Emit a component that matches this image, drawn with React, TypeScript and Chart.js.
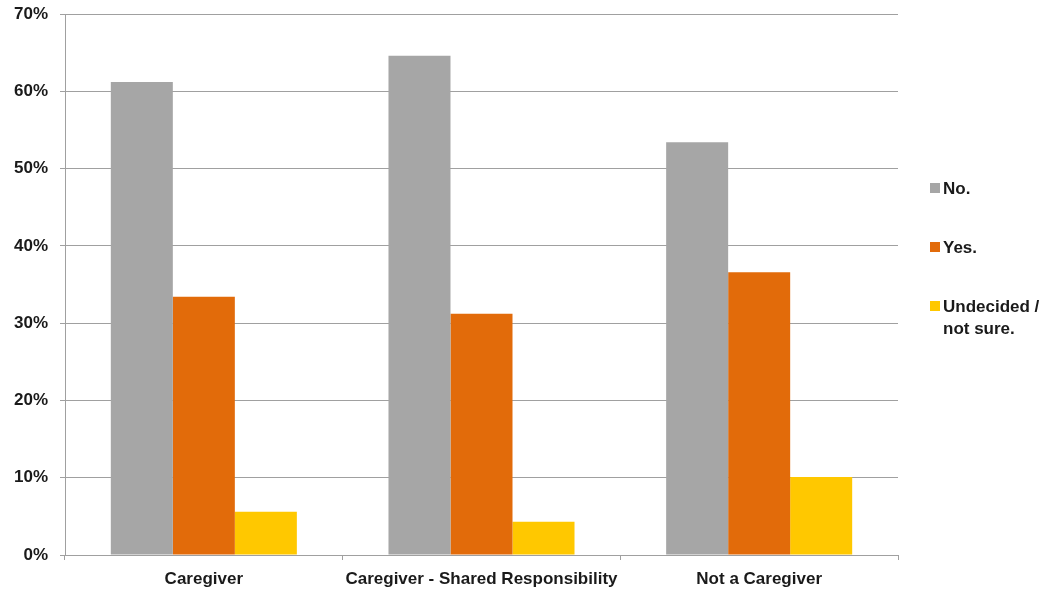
import React, { useEffect, useRef } from "react";
import { Chart, registerables } from "chart.js";

Chart.register(...registerables);

const categories = ["Caregiver", "Caregiver - Shared Responsibility", "Not a Caregiver"];
const seriesNames = ["No.", "Yes.", "Undecided / not sure."];
const legendLines = [["No."], ["Yes."], ["Undecided /", "not sure."]];
const noValues = [61.2, 64.6, 53.4];
const yesValues = [33.4, 31.2, 36.6];
const undecidedValues = [5.6, 4.3, 10.1];
const seriesColors = ["#a6a6a6", "#e26b0a", "#ffc800"];
const yTicks = [0, 10, 20, 30, 40, 50, 60, 70];

const FONT = "'Liberation Sans', Arial, sans-serif";

export default function App() {
  const ref = useRef<HTMLCanvasElement | null>(null);
  useEffect(() => {
    if (!ref.current) return;
    const chart = new Chart(ref.current, {
      type: "bar",
      data: {
        labels: categories,
        datasets: [noValues, yesValues, undecidedValues].map((d, i) => ({
          label: seriesNames[i],
          data: d,
          backgroundColor: seriesColors[i],
          borderWidth: 0,
          categoryPercentage: 0.67,
          barPercentage: 1,
        })),
      },
      options: {
        animation: false,
        responsive: false,
        maintainAspectRatio: false,
        layout: { padding: { left: 0, right: 151, top: 14, bottom: 0 } },
        plugins: { legend: { display: false }, tooltip: { enabled: false } },
        scales: {
          x: {
            grid: {
              display: true,
              drawOnChartArea: false,
              drawTicks: true,
              tickLength: 5,
              color: "#a0a0a0",
              offset: true,
            },
            border: { display: true, color: "#a0a0a0", width: 1 },
            ticks: {
              color: "#1a1a1a",
              font: { family: FONT, size: 17, weight: "bold" },
              padding: 9,
              maxRotation: 0,
              autoSkip: false,
            },
            afterFit: (s: any) => {
              s.height = 37;
              s.paddingLeft = 0;
              s.paddingRight = 0;
            },
          },
          y: {
            min: 0,
            max: 70,
            afterBuildTicks: (s: any) => {
              s.ticks = yTicks.map((v) => ({ value: v }));
            },
            grid: {
              color: "#a0a0a0",
              tickLength: 5,
              drawTicks: true,
            },
            border: { display: true, color: "#a0a0a0", width: 1 },
            ticks: {
              color: "#1a1a1a",
              font: { family: FONT, size: 17, weight: "bold" },
              padding: 12,
              callback: (v: any) => v + "%",
            },
            afterFit: (s: any) => {
              s.width = 65;
              s.paddingTop = 0;
              s.paddingBottom = 0;
            },
          },
        },
      },
    });
    return () => chart.destroy();
  }, []);

  const legendTops = [178, 237, 296];
  return (
    <div style={{ position: "fixed", left: 0, top: 0, width: 1049, height: 592, background: "#fff" }}>
      <canvas ref={ref} width={1049} height={592} style={{ display: "block" }} />
      {legendLines.map((lines, i) => (
        <div
          key={i}
          style={{
            position: "absolute",
            left: 930,
            top: legendTops[i],
            display: "flex",
            alignItems: "flex-start",
            fontFamily: FONT,
            fontWeight: "bold",
            fontSize: 17,
            lineHeight: "22px",
            color: "#1a1a1a",
          }}
        >
          <span
            style={{
              display: "inline-block",
              width: 10,
              height: 10,
              background: seriesColors[i],
              marginTop: 5,
              marginRight: 3,
            }}
          />
          <span>
            {lines.map((l, j) => (
              <div key={j}>{l}</div>
            ))}
          </span>
        </div>
      ))}
    </div>
  );
}
